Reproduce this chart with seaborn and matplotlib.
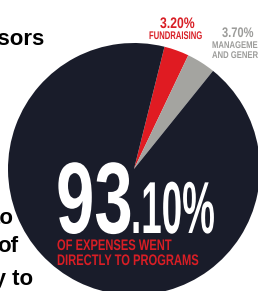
import numpy as np
import matplotlib
matplotlib.use("Agg")
import matplotlib.pyplot as plt
import seaborn as sns
from matplotlib.patheffects import AbstractPathEffect
from matplotlib.transforms import Affine2D

# expense breakdown
categories = ["Fundraising", "Management and general", "Programs"]
shares = [3.20, 3.70, 93.10]
slice_colors = ["#e01b22", "#a4a4a0", "#191c2a"]

headline_lines = ["OF EXPENSES WENT", "DIRECTLY TO PROGRAMS"]
side_words = ["Sponsors", "to", "of", "ability to"]

W, H = 258, 291


class Squeeze(AbstractPathEffect):
    """narrow the glyphs horizontally (poster font is very condensed)"""

    def __init__(self, sx):
        super().__init__()
        self.sx = sx

    def draw_path(self, renderer, gc, tpath, affine, rgbFace=None):
        renderer.draw_path(gc, tpath, Affine2D().scale(self.sx, 1) + affine, rgbFace)


def put(ax, x, y, s, size, color, sx=1.0, ha="left", weight="bold"):
    # x, y in pixels from top-left, y is the baseline
    ax.text(x, H - y, s, fontsize=size, color=color, ha=ha, va="baseline",
            fontweight=weight, path_effects=[Squeeze(sx)] if sx != 1.0 else None,
            zorder=5)


def draw_pie(ax):
    ax.pie(shares, colors=slice_colors, startangle=76, counterclock=False,
           center=(134, H - 169), radius=126,
           wedgeprops=dict(linewidth=0))
    ax.set_xlim(0, W)
    ax.set_ylim(0, H)
    ax.set_aspect("equal")
    ax.axis("off")


def draw_labels(ax):
    red_txt = "#d81e25"
    gray_txt = "#9c9c9a"
    fund, mgmt, prog = shares

    put(ax, 160, 28, f"{fund:.2f}%", 11, red_txt, sx=0.8)
    put(ax, 149, 39, categories[0].upper(), 8, red_txt, sx=0.69)

    put(ax, 222, 37, f"{mgmt:.2f}%", 10, gray_txt, sx=0.8)
    put(ax, 212, 48, "MANAGEMENT", 7, gray_txt, sx=0.79)
    put(ax, 212, 58, "AND GENERAL", 7, gray_txt, sx=0.79)

    whole, frac = f"{prog:.2f}".split(".")
    put(ax, 56, 233, whole, 73, "white", sx=0.68)
    put(ax, 131, 233, "." + frac[:2] + "%", 53, "white", sx=0.5)

    put(ax, 57, 250, headline_lines[0], 11, red_txt, sx=0.73)
    put(ax, 57, 265, headline_lines[1], 11, red_txt, sx=0.73)


def draw_side_text(ax):
    # words of the neighbouring column, cut off by the crop
    put(ax, 45, 45, side_words[0], 16, "black", ha="right")
    put(ax, 14, 224, side_words[1], 16, "black", ha="right")
    put(ax, 18, 252, side_words[2], 16, "black", ha="right")
    put(ax, 33, 285, side_words[3], 16, "black", ha="right")


if __name__ == "__main__":
    sns.set_theme(style="white")
    plt.rcParams["font.family"] = ["Liberation Sans", "DejaVu Sans"]

    fig = plt.figure(figsize=(W / 100, H / 100), dpi=100)
    ax = fig.add_axes([0, 0, 1, 1])
    draw_pie(ax)
    draw_labels(ax)
    draw_side_text(ax)

    fig.savefig("out.png", dpi=100, facecolor="white")
    plt.close(fig)
